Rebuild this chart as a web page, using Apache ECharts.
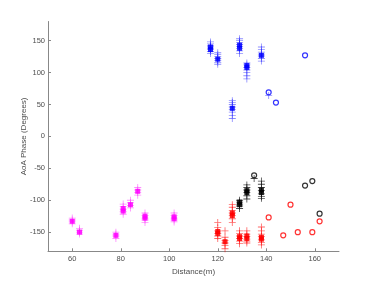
<!DOCTYPE html>
<html><head><meta charset="utf-8">
<script src="https://cdn.jsdelivr.net/npm/echarts@6/dist/echarts.min.js"></script>
<style>html,body{margin:0;padding:0;background:#fff}#c{width:374px;height:283px}</style>
</head><body><div id="c"></div>
<script>
// ---- data ----
const xTicks = [60, 80, 100, 120, 140, 160];
const yTicks = [-150, -100, -50, 0, 50, 100, 150];

const bluePlus = [
  [117,130],[117,133],[117,136],[117,138],[117,140],[117,142],[117,145],[117,148],
  [120,113],[120,116],[120,119],[120,122],[120,125],[120,128],[120,131],
  [126,28],[126,33],[126,38],[126,42],[126,46],[126,50],[126,53],[126,56],
  [129,130],[129,134],[129,138],[129,141],[129,144],[129,147],[129,150],[129,153],
  [132,90],[132,95],[132,100],[132,104],[132,108],[132,112],[132,115],
  [138,118],[138,122],[138,126],[138,129],[138,132],[138,136],[138,140],
  [141,64]
];
const blueSquare = [[117,140],[117,136],[120,121],[126,44],[129,143],[129,138],[132,108],[132,111],[138,127]];
const blueCircle = [[141,69],[144,53],[156,127]];

const magentaPlus = [
  [60,-128],[60,-131],[60,-134],[60,-137],
  [63,-144],[63,-147],[63,-150],[63,-153],
  [78,-150],[78,-153],[78,-156],[78,-160],
  [81,-106],[81,-110],[81,-114],[81,-118],[81,-122],
  [84,-100],[84,-104],[84,-108],[84,-112],
  [87,-80],[87,-84],[87,-88],[87,-92],
  [90,-120],[90,-124],[90,-128],[90,-131],[90,-135],
  [102,-120],[102,-124],[102,-128],[102,-131],[102,-134]
];
const magentaSquare = [[60,-133],[63,-150],[78,-155],[81,-113],[81,-117],[84,-107],[87,-86],[90,-125],[90,-128],[102,-126],[102,-129]];

const redPlus = [
  [120,-135],[120,-143],[120,-148],[120,-152],[120,-156],[120,-160],
  [123,-148],[123,-158],[123,-163],[123,-167],[123,-171],[123,-176],
  [126,-107],[126,-111],[126,-116],[126,-120],[126,-124],[126,-129],[126,-135],
  [129,-148],[129,-152],[129,-156],[129,-160],[129,-164],[129,-168],
  [132,-148],[132,-153],[132,-157],[132,-161],[132,-164],[132,-167],
  [138,-142],[138,-148],[138,-153],[138,-157],[138,-162],[138,-166],[138,-170]
];
const redSquare = [[120,-149],[120,-152],[123,-165],[126,-120],[126,-124],[129,-157],[129,-160],[132,-156],[132,-160],[138,-158],[138,-161]];
const redCircle = [[141,-127],[147,-155],[150,-107],[153,-150],[159,-150],[162,-133]];

const blackPlus = [
  [129,-100],[129,-103],[129,-106],[129,-109],[129,-113],
  [132,-76],[132,-80],[132,-84],[132,-88],[132,-93],[132,-98],
  [135,-66],
  [138,-70],[138,-75],[138,-80],[138,-85],[138,-90],[138,-94],[138,-97]
];
const blackSquare = [[129,-103],[129,-107],[132,-85],[132,-88],[138,-84],[138,-88]];
const blackCircle = [[135,-61],[156,-77],[159,-70],[162,-121]];

// ---- chart ----
const PLUS = 'path://M-0.6,-5H0.6V-0.6H5V0.6H0.6V5H-0.6V0.6H-5V-0.6H-0.6Z';
function plus(data, color, op) {
  return {type:'scatter', data, symbol: PLUS, symbolSize: 7, silent:true,
    itemStyle:{color, opacity: op}};
}
function square(data, color) {
  return {type:'scatter', data, symbol:'rect', symbolSize: 5, silent:true,
    itemStyle:{color, opacity: 0.85}};
}
function circle(data, color) {
  return {type:'scatter', data, symbol:'circle', symbolSize: 5, silent:true,
    itemStyle:{color:'rgba(0,0,0,0)', borderColor: color, borderWidth: 1.2}};
}
const axisCol = '#888888';
const txtCol = '#4d4d4d';
const font = 'Liberation Sans, Arial, Helvetica, sans-serif';
const chart = echarts.init(document.getElementById('c'), null, {renderer:'canvas'});
chart.setOption({
  animation:false,
  backgroundColor:'#ffffff',
  grid:{left:48, right:35, top:21.5, bottom:31.7, containLabel:false},
  xAxis:{type:'value', min:50, max:170, interval:10,
    name:'Distance(m)', nameLocation:'middle', nameGap:16, nameMoveOverlap:false,
    nameTextStyle:{color:txtCol, fontSize:8, fontFamily:font},
    axisLine:{show:true, onZero:false, lineStyle:{color:axisCol, width:1}},
    axisTick:{show:true, inside:true, length:3, lineStyle:{color:axisCol},
      customValues: xTicks},
    axisLabel:{color:txtCol, fontSize:7.5, fontFamily:font, margin:4,
      customValues: xTicks},
    splitLine:{show:false}},
  yAxis:{type:'value', min:-180, max:180, interval:10,
    name:'AoA Phase (Degrees)', nameLocation:'middle', nameGap:20, nameRotate:90, nameMoveOverlap:false,
    nameTextStyle:{color:txtCol, fontSize:8, fontFamily:font},
    axisLine:{show:true, onZero:false, lineStyle:{color:axisCol, width:1}},
    axisTick:{show:true, inside:true, length:3, lineStyle:{color:axisCol},
      customValues: yTicks},
    axisLabel:{color:txtCol, fontSize:7.5, fontFamily:font, margin:3,
      customValues: yTicks},
    splitLine:{show:false}},
  series:[
    plus(bluePlus,'#0000ff',0.45), square(blueSquare,'#0000ff'), circle(blueCircle,'#0000ff'),
    plus(magentaPlus,'#ff00ff',0.45), square(magentaSquare,'#ff00ff'),
    plus(redPlus,'#ff0000',0.6), square(redSquare,'#ff0000'), circle(redCircle,'#ff0000'),
    plus(blackPlus,'#000000',0.7), square(blackSquare,'#000000'), circle(blackCircle,'#000000')
  ]
});
</script></body></html>
